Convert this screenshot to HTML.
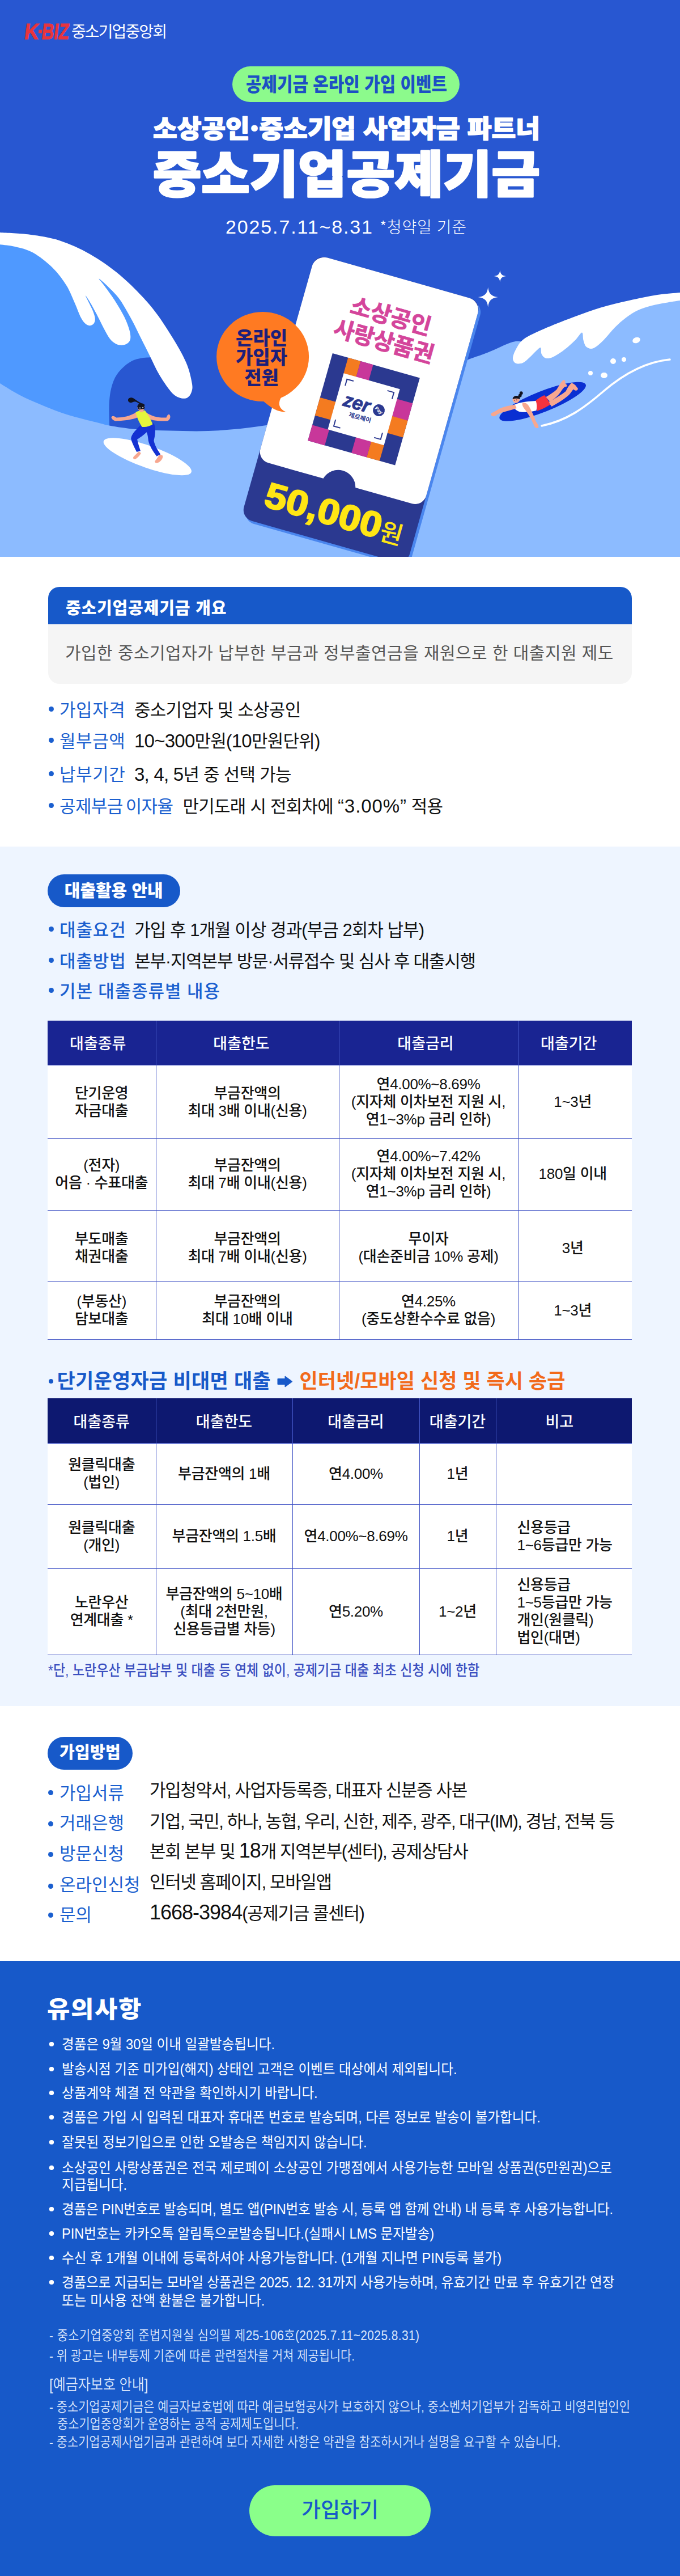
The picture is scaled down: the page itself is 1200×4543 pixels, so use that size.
<!DOCTYPE html>
<html lang="ko">
<head>
<meta charset="utf-8">
<title>중소기업공제기금 온라인 가입 이벤트</title>
<style>
*{box-sizing:border-box;margin:0;padding:0}
html,body{width:1200px;height:4543px;overflow-x:hidden;background:#fff}
body{font-family:"Liberation Sans","Noto Sans CJK KR",sans-serif;color:#111;position:relative;letter-spacing:0}
.abs{position:absolute}
.sec{position:absolute;left:0;width:1200px}
#hero{top:0;height:982px;background:#2857d1;overflow:hidden}
#s1{top:982px;height:511px;background:#fff}
#s2{top:1493px;height:1516px;background:#eef5ff}
#s2>*{margin-top:2px}
#s3{top:3009px;height:449px;background:#fff}
#s3>*{margin-top:-1px}
#s4{top:3458px;height:1085px;background:#1759c9;color:#fff}
#s4>*{margin-top:-1px}
.ln{position:absolute;white-space:nowrap;line-height:1}
.k{font-family:"Noto Sans CJK KR","Liberation Sans",sans-serif}
/* section 1 */
.ovh{position:absolute;left:85px;top:53px;width:1030px;height:66px;background:#1759c9;border-radius:20px 20px 0 0}
.ovb{position:absolute;left:85px;top:119px;width:1030px;height:105px;background:#f5f5f5;border-radius:0 0 20px 20px}
.bl{color:#1b5fcf}
.bul{position:absolute;left:83.5px;white-space:nowrap;line-height:40px;height:40px;font-size:31px;letter-spacing:-0.75px}
.bul .d{display:inline-block;width:21.5px;height:40px;vertical-align:top;font-size:0;position:relative}
.bul .d::before{content:"";position:absolute;left:2px;top:13px;width:9px;height:9px;border-radius:50%;background:#1b5fcf}
.bul .lb{color:#1b5fcf;margin-right:15.5px;letter-spacing:0.6px}
.n{font-size:33px;line-height:0}
.pill{position:absolute;left:85px;height:56px;border-radius:28px;background:#1759c9;color:#fff;font-weight:900;font-size:26px;line-height:56px;text-align:center;white-space:nowrap}
/* tables */
table{position:absolute;left:84px;width:1031px;border-collapse:collapse;table-layout:fixed;background:#fff}
th{background:#192492;color:#fff;font-weight:500;font-size:27px;border-left:1px solid #4558c8;border-right:1px solid #4558c8;vertical-align:middle;text-align:center}
th:first-child{border-left:none} th:last-child{border-right:none}
td{border:1px solid #3d50c4;text-align:center;vertical-align:middle;font-size:26px;line-height:31px;font-weight:500;color:#111;letter-spacing:-0.3px}
td:first-child{border-left:none} td:last-child{border-right:none}

td.l{text-align:left;padding-left:37px}
.h2 .arr{font-size:26px;position:relative;top:-3px}
.b3 .lb{display:inline-block;width:158px;margin-right:0}
.b3 .v{font-size:31px;color:#111}
.nb{position:absolute;left:109px;white-space:nowrap;font-size:25.5px;line-height:36px;height:36px;color:#fff;transform:scaleX(0.925);transform-origin:0 0}
.nb .d{position:absolute;left:-24.5px;top:14px;width:9px;height:8px;border-radius:50%;background:#fff;font-size:0}
.nb .d:empty{display:none}
.sm{position:absolute;left:87px;white-space:nowrap;font-size:23.5px;line-height:32px;height:32px;color:#dce7fb;font-weight:350;transform:scaleX(0.888);transform-origin:0 0}
.btn{position:absolute;left:440px;top:926px;width:320px;height:90px;border-radius:45px;background:#8aff8a;color:#1759c9;font-size:37px;font-weight:500;line-height:90px;text-align:center}
.b2{font-size:31px;letter-spacing:-0.95px}
.b2 .lb{font-weight:500;letter-spacing:0.9px;margin-right:14.5px}
td.c4{padding-right:8px}
.r3 td{padding-top:8px}
.r1 td{padding-top:2px}
.dot{left:85px;width:9px;height:9px;border-radius:50%;background:#1b5fcf}
.l3{left:105px;font-size:31px;color:#1b5fcf;letter-spacing:0px}
.v3{left:264px;font-size:31px;color:#111;letter-spacing:-1.35px}
.v3 .n{font-size:36px;letter-spacing:-1px;line-height:0}
.t2 th{background:#0d1870}
</style>
</head>
<body>

<!-- ================= HERO ================= -->
<div id="hero" class="sec">
<!--HS-->
<svg width="1200" height="982" viewBox="0 0 1200 982" style="position:absolute;left:0;top:0">
<rect width="1200" height="982" fill="#2857d1"/>
<path d="M-10.0,420.0 C8.3,421.7 65.0,416.7 100.0,430.0 C135.0,443.3 173.0,471.7 200.0,500.0 C227.0,528.3 250.0,578.3 262.0,600.0 C274.0,621.7 270.3,625.0 272.0,630.0 C268.3,630.2 256.7,630.3 250.0,631.5 C243.3,632.7 237.8,633.9 232.0,637.0 C226.2,640.1 219.8,645.2 215.0,650.0 C210.2,654.8 206.2,660.0 203.0,666.0 C199.8,672.0 197.7,679.2 196.0,686.0 C194.3,692.8 193.6,699.7 193.0,707.0 C192.4,714.3 192.5,721.2 192.6,730.0 C192.7,738.8 193.3,755.0 193.4,760.0 L-10,760 Z" fill="#4f99ff"/>
<path d="M-10.0,669.0 C-8.3,670.1 -7.5,671.2 0.0,675.9 C7.5,680.6 23.5,690.8 35.3,697.0 C47.1,703.2 58.8,708.0 70.6,713.0 C82.4,718.0 94.1,722.9 105.9,727.0 C117.7,731.1 129.4,734.4 141.2,737.6 C153.0,740.9 167.7,744.3 176.5,746.5 C185.3,748.7 183.4,749.0 194.0,750.7 C204.6,752.5 222.3,755.5 240.0,757.0 C257.7,758.5 278.7,759.0 300.0,759.5 C321.3,760.0 344.5,760.9 368.0,760.0 C391.5,759.1 415.7,757.2 441.0,754.0 C466.3,750.8 493.5,746.3 520.0,741.0 C546.5,735.7 570.0,730.5 600.0,722.0 C630.0,713.5 664.7,703.7 700.0,690.0 C735.3,676.3 785.3,651.3 812.0,640.0 C838.7,628.7 844.5,628.2 860.0,622.0 C875.5,615.8 893.3,606.3 905.0,603.0 C916.7,599.7 920.8,603.8 930.0,602.0 C939.2,600.2 946.7,596.7 960.0,592.0 C973.3,587.3 993.3,579.8 1010.0,574.0 C1026.7,568.2 1041.7,562.3 1060.0,557.0 C1078.3,551.7 1095.0,546.8 1120.0,542.0 C1145.0,537.2 1195.0,530.3 1210.0,528.0 L1210,990 L-10,990 Z" fill="#8cbbff"/>
<path d="M-10.6,409.6 C-8.8,409.7 -10.6,409.4 0.0,410.1 C10.6,410.8 35.3,411.4 52.9,413.8 C70.6,416.2 88.2,418.7 105.9,424.4 C123.5,430.1 141.2,438.1 158.8,448.2 C176.5,458.4 194.1,470.3 211.8,485.3 C229.4,500.3 249.7,520.6 264.7,538.2 C279.7,555.9 291.2,574.4 301.8,591.2 C312.4,607.9 322.1,624.7 328.2,638.8 C334.4,652.9 337.2,667.1 338.8,675.9 C340.4,684.7 339.1,687.5 337.8,691.8 C336.4,696.0 333.8,699.5 330.9,701.3 C328.0,703.1 323.8,702.9 320.3,702.4 C316.8,701.8 313.2,700.6 309.7,698.1 C306.2,695.6 304.0,693.9 299.1,687.5 C294.3,681.2 286.3,669.9 280.6,660.0 C274.9,650.1 270.0,638.8 264.7,628.2 C259.4,617.6 254.1,607.1 248.8,596.5 C243.5,585.9 239.1,576.0 232.9,564.7 C226.8,553.4 218.6,538.4 211.8,528.7 C204.9,519.0 197.8,512.6 191.6,506.5 C185.5,500.3 175.8,491.8 174.7,491.6 C173.6,491.5 180.4,498.7 185.3,505.4 C190.1,512.1 198.1,522.9 203.8,531.9 C209.6,540.9 215.6,550.9 219.7,559.4 C223.9,568.0 227.0,576.6 228.7,583.2 C230.4,589.9 230.8,595.1 229.8,599.1 C228.7,603.1 225.4,605.5 222.4,607.1 C219.4,608.6 215.1,609.0 211.8,608.6 C208.4,608.3 205.3,607.0 202.2,604.9 C199.1,602.9 196.5,601.0 193.2,596.5 C190.0,592.0 186.4,585.0 182.6,577.9 C178.9,570.9 174.4,561.6 170.5,554.1 C166.5,546.6 162.1,538.4 158.8,532.9 C155.6,527.5 151.1,520.9 150.9,521.3 C150.7,521.7 155.6,531.0 157.8,535.6 C160.0,540.2 162.4,544.4 164.1,548.8 C165.8,553.2 167.6,558.4 167.8,562.1 C168.0,565.8 166.9,569.0 165.2,571.1 C163.5,573.1 160.3,574.4 157.8,574.2 C155.2,574.1 152.5,572.6 149.8,570.0 C147.2,567.4 144.8,564.1 141.9,558.4 C139.0,552.6 136.4,544.7 132.4,535.6 C128.3,526.5 124.1,514.4 117.5,503.8 C110.9,493.2 102.5,481.8 92.6,472.1 C82.8,462.4 69.3,451.8 58.2,445.6 C47.2,439.4 36.2,437.4 26.5,435.0 C16.8,432.6 6.2,432.1 0.0,431.3 C-6.2,430.5 -8.8,430.4 -10.6,430.2 Z" fill="#fff"/>
<path d="M1210.0,515.0 C1208.3,515.2 1208.3,515.2 1200.0,516.0 C1191.7,516.8 1175.0,517.7 1160.0,520.0 C1145.0,522.3 1126.7,526.2 1110.0,530.0 C1093.3,533.8 1076.7,537.5 1060.0,542.5 C1043.3,547.5 1026.7,553.8 1010.0,560.0 C993.3,566.2 974.2,573.8 960.0,580.0 C945.8,586.2 933.2,591.7 925.0,597.5 C916.8,603.3 914.3,609.3 911.0,615.0 C907.7,620.7 905.2,627.2 905.0,631.5 C904.8,635.8 907.1,639.1 910.0,640.5 C912.9,641.9 918.3,641.8 922.5,640.0 C926.7,638.2 931.1,633.5 935.0,630.0 C938.9,626.5 942.8,621.8 946.0,619.0 C949.2,616.2 952.4,612.2 954.0,613.0 C955.6,613.8 954.1,620.9 955.5,624.0 C956.9,627.1 959.2,630.5 962.5,631.5 C965.8,632.5 969.6,632.3 975.0,630.0 C980.4,627.7 988.3,622.5 995.0,617.5 C1001.7,612.5 1009.7,605.2 1015.0,600.0 C1020.3,594.8 1024.6,586.5 1027.0,586.5 C1029.4,586.5 1028.2,595.8 1029.5,600.0 C1030.8,604.2 1032.0,609.7 1035.0,612.0 C1038.0,614.3 1042.5,616.0 1047.5,614.0 C1052.5,612.0 1058.8,606.1 1065.0,600.0 C1071.2,593.9 1078.3,584.2 1085.0,577.5 C1091.7,570.8 1098.3,565.0 1105.0,560.0 C1111.7,555.0 1117.5,551.0 1125.0,547.5 C1132.5,544.0 1141.7,541.2 1150.0,539.0 C1158.3,536.8 1166.7,535.5 1175.0,534.0 C1183.3,532.5 1194.2,530.8 1200.0,530.0 C1205.8,529.2 1208.3,529.2 1210.0,529.0 Z" fill="#fff"/>
  <!-- bubbles & line -->
  <g fill="#fff">
    <ellipse cx="1123" cy="600" rx="7" ry="5" transform="rotate(-20 1123 600)"/>
    <circle cx="1101" cy="634" r="4"/><circle cx="1082" cy="637" r="5"/>
    <ellipse cx="1066" cy="662" rx="6" ry="5"/><circle cx="1042" cy="658" r="4"/>
  </g>
  <path d="M956,751 C1000,742 1030,720 1065,690 C1100,660 1140,638 1182,634" fill="none" stroke="#fff" stroke-width="3.5" stroke-linecap="round"/>
  <!-- sparkles -->
  <path d="M861.2,506.5 C862.5,518 867,522.5 878.8,524.1 C867,525.7 862.5,530 861.2,541.7 C860,530 855.5,525.7 843.7,524.1 C855.5,522.5 860,518 861.2,506.5Z" fill="#fff"/>
  <path d="M882.4,476.5 C883.2,483.5 886,486.2 892.9,487 C886,487.8 883.2,490.5 882.4,497.5 C881.6,490.5 878.8,487.8 871.9,487 C878.8,486.2 881.6,483.5 882.4,476.5Z" fill="#fff"/>


  <!-- surfer (left) -->
  <g transform="translate(170,680) scale(0.294118)">
    <ellipse cx="307" cy="426" rx="279" ry="66" transform="rotate(19.5 307 426)" fill="#fff"/>
    <path d="M222,428 C232,418 245,405 255,395 L268,405 C262,418 250,432 236,440 C226,444 218,438 222,428Z" fill="#f7a78f"/>
    <path d="M352,452 C362,440 372,425 380,412 L398,420 C402,432 392,448 376,460 C362,468 348,462 352,452Z" fill="#f7a78f"/>
    <path d="M262,240 L345,225 C360,260 352,300 345,330 C350,360 370,390 385,412 L362,424 C340,395 318,360 312,330 C310,310 308,295 302,280 C285,295 260,315 245,322 C250,345 258,370 265,392 L242,398 C228,370 212,340 208,318 C210,290 240,265 262,240Z" fill="#1432d2"/>
    <path d="M240,160 C200,185 160,192 120,192 C105,180 92,180 90,192 C95,205 110,215 125,212 C165,210 215,205 250,190Z" fill="#f7a78f"/>
    <path d="M295,158 C330,185 375,195 420,192 C425,178 432,168 440,175 C448,188 442,205 428,212 C380,215 330,210 292,190Z" fill="#f7a78f"/>
    <path d="M236,160 C250,150 275,146 292,150 C310,175 328,205 338,232 C320,245 295,250 274,248 C258,222 242,190 236,160Z" fill="#e4f53c"/>
    <path d="M258,142 L280,140 L284,158 L262,160Z" fill="#f7a78f"/>
    <circle cx="268" cy="131" r="21" fill="#f7a78f"/>
    <path d="M246,128 C246,108 270,100 288,112 L290,122 L248,132Z" fill="#111320"/>
    <path d="M262,112 C245,100 235,92 222,98 C205,108 190,100 190,86 C192,72 212,68 226,78 C240,88 255,100 272,106Z" fill="#111320"/>
    <rect x="250" y="124" width="40" height="18" rx="7" fill="#111320" transform="rotate(-6 270 133)"/>
    <circle cx="262" cy="134" r="4" fill="#fff" opacity=".7"/><circle cx="279" cy="132" r="4" fill="#fff" opacity=".7"/>
  </g>

  <!-- swimmer (right) -->
  <g transform="translate(850,640) scale(0.294118)">
    <ellipse cx="366" cy="232" rx="278" ry="62" transform="rotate(-21.6 366 232)" fill="#0a2fd2"/>
    <path d="M385,205 C410,190 435,175 450,160 C462,140 475,118 488,104 C500,100 505,112 500,122 C510,128 515,136 510,142 C498,140 490,150 480,165 C465,190 440,215 410,232Z" fill="#f7a78f"/>
    <path d="M400,235 C440,215 480,190 505,170 C515,150 528,128 540,120 C555,125 570,140 578,155 C575,170 562,168 550,158 C540,170 528,190 515,200 C485,225 450,245 420,262Z" fill="#f7a78f"/>
    <path d="M322,228 C340,212 360,200 376,194 C392,210 405,232 410,250 C390,265 360,280 332,288Z" fill="#f5333f"/>
    <path d="M190,255 C210,240 260,232 325,228 C332,245 332,268 328,286 C300,294 260,298 225,292 C205,285 192,272 190,255Z" fill="#fff"/>
    <path d="M200,250 C170,255 135,262 105,275 C85,290 65,295 55,305 C55,318 68,325 82,318 C95,305 115,298 140,292 C165,285 190,280 210,272Z" fill="#f7a78f"/>
    <path d="M245,240 C262,236 275,245 285,262 C300,290 315,320 325,350 C335,365 345,378 340,390 C328,395 315,385 312,370 C300,340 280,305 262,282 C250,268 240,252 245,240Z" fill="#f7a78f"/>
    <circle cx="206" cy="220" r="21" fill="#f7a78f"/>
    <path d="M186,218 C186,200 205,192 222,200 C230,205 232,212 228,218 C215,212 200,212 186,218Z" fill="#111320"/>
    <circle cx="237" cy="181" r="10" fill="#111320"/><circle cx="230" cy="196" r="10" fill="#111320"/>
    <circle cx="196" cy="224" r="2.5" fill="#111320"/><circle cx="210" cy="222" r="2.5" fill="#111320"/>
  </g>

  <!-- card -->
  <g transform="translate(556.6,448.6) rotate(15.8)">
    <rect x="5" y="4" width="304" height="483" rx="20" fill="#4a86ee"/>
    <rect x="0" y="0" width="304" height="483" rx="20" fill="#2b3990"/>
    <path d="M22,0 H282 A22,22 0 0 1 304,22 V356.5 A20,20 0 0 1 284,376.5 H180 A30.5,30.5 0 0 0 121,376.5 H20 A20,20 0 0 1 0,356.5 V22 A22,22 0 0 1 22,0Z" fill="#fff"/>
    <g font-family="'Noto Sans CJK KR','Liberation Sans',sans-serif" font-weight="700" font-size="40" fill="#d4459b" stroke="#d4459b" stroke-width="0.8">
    <text x="85" y="83" textLength="146" lengthAdjust="spacing">소상공인</text>
    <text x="67" y="129" textLength="182" lengthAdjust="spacing">사랑상품권</text>
    </g>
    <!-- QR -->
    <g transform="translate(76.6,159.6)">
      <rect width="160" height="160" fill="#2b3990"/>
      <rect x="28.5" y="0" width="23" height="29" fill="#f47b20"/><rect x="51.5" y="0" width="23" height="29" fill="#c8379a"/>
      <rect x="131" y="46.5" width="29" height="32" fill="#c8379a"/><rect x="131" y="78" width="29" height="31" fill="#f47b20"/>
      <rect x="0" y="81" width="29" height="33" fill="#f47b20"/><rect x="0" y="131.5" width="31" height="28.5" fill="#c8379a"/>
      <rect x="80" y="131" width="28" height="29" fill="#c8379a"/><rect x="108" y="131" width="23.5" height="29" fill="#f47b20"/>
      <rect x="28.5" y="28.5" width="103" height="103" fill="#fff"/>
      <g fill="none" stroke="#2b3990" stroke-width="2">
        <path d="M37,49 V37 H49"/><path d="M111,37 H123 V49"/><path d="M37,111 V123 H49"/><path d="M111,123 H123 V111"/>
      </g>
      <text x="41" y="84" font-family="'Liberation Sans',sans-serif" font-weight="700" font-style="italic" font-size="34" letter-spacing="-0.5" fill="#2b3990" stroke="#2b3990" stroke-width="0.8">zer</text>
      <circle cx="106" cy="74.5" r="10.5" fill="#2b3990"/>
      <text x="106" y="77.5" text-anchor="middle" font-family="'Liberation Sans',sans-serif" font-weight="700" font-size="8.5" fill="#fff" transform="rotate(28 106 74.5)">Pay</text>
      <text x="77.5" y="100" text-anchor="middle" font-family="'Noto Sans CJK KR',sans-serif" font-weight="700" font-size="11" fill="#2b3990">제로페이</text>
    </g>
    <text x="31" y="452" font-family="'Liberation Sans',sans-serif" font-weight="700" font-size="63" textLength="212" lengthAdjust="spacingAndGlyphs" fill="#ffe614" stroke="#ffe614" stroke-width="2.2" stroke-linejoin="round">50,000</text>
    <text x="243" y="453" font-family="'Noto Sans CJK KR',sans-serif" font-weight="500" font-size="44" fill="#ffe614">원</text>
  </g>

  <!-- speech bubble -->
  <path d="M496.5,700.6 C494,704 492.5,709 492.9,713.5 C493.5,719 499,725 505.9,726.8 C497,727 487,723.5 481.2,720 C475,716 470,712 465.3,707.9 L470,690 Z" fill="#ff7a22"/>
  <ellipse cx="463.6" cy="629" rx="81.5" ry="79" fill="#ff7a22"/>
  <g font-family="'Noto Sans CJK KR','Liberation Sans',sans-serif" font-weight="900" font-size="33" fill="#1c1f7a" text-anchor="middle">
    <text x="461.5" y="607.5">온라인</text><text x="461.5" y="641.5">가입자</text><text x="461.5" y="678">전원</text>
  </g>

  <!-- logo -->
  <g transform="translate(42,69) skewX(-7)" font-family="'Liberation Sans',sans-serif" font-weight="700" font-size="39" fill="#e8343d" stroke="#e8343d" stroke-width="1.2"><text x="0" y="0" textLength="25" lengthAdjust="spacingAndGlyphs">K</text><rect x="24.5" y="-16.5" width="6" height="6" stroke="none"/><text x="30.5" y="0" textLength="48" lengthAdjust="spacingAndGlyphs">BIZ</text></g>
  <text x="126" y="66" font-family="'Noto Sans CJK KR','Liberation Sans',sans-serif" font-weight="400" font-size="28" textLength="169" lengthAdjust="spacing" fill="#fff">중소기업중앙회</text>
  <!-- pill -->
  <rect x="410" y="117" width="401" height="63" rx="31.5" fill="#8cfa8c"/>
  <text x="434" y="160.8" font-family="'Noto Sans CJK KR','Liberation Sans',sans-serif" font-weight="900" font-size="34.5" textLength="355" lengthAdjust="spacingAndGlyphs" fill="#1d4fc4">공제기금 온라인 가입 이벤트</text>
  <!-- titles -->
  <g fill="#fff" stroke="#fff" stroke-linejoin="round" font-family="'Noto Sans CJK KR','Liberation Sans',sans-serif" font-weight="900">
  <text x="270" y="242.6" font-size="44" textLength="683" lengthAdjust="spacingAndGlyphs" stroke-width="1.6">소상공인·중소기업 사업자금 파트너</text>
  <text x="270" y="338.5" font-size="88" textLength="683" lengthAdjust="spacingAndGlyphs" stroke-width="3">중소기업공제기금</text>
  </g>
  <text x="398" y="412" font-family="'Liberation Sans',sans-serif" font-size="34" textLength="259" lengthAdjust="spacing" fill="#fff">2025.7.11~8.31</text>
  <text x="670" y="411" font-family="'Noto Sans CJK KR',sans-serif" font-weight="300" font-size="28" textLength="153" lengthAdjust="spacing" fill="#fff">*청약일 기준</text>

</svg><!--HE-->
</div>

<!-- ================= SECTION 1 ================= -->
<div id="s1" class="sec">
  <div class="ovh"></div>
  <div class="ovb"></div>
  <div class="ln" style="left:116px;top:77px;font-size:29px;letter-spacing:0.85px;font-weight:900;color:#fff">중소기업공제기금 개요</div>
  <div class="ln" style="left:115px;top:155px;font-size:30px;letter-spacing:0.45px;color:#555">가입한 중소기업자가 납부한 부금과 정부출연금을 재원으로 한 대출지원 제도</div>
  <div class="bul" style="top:251px"><span class="d">•</span><span class="lb">가입자격</span>중소기업자 및 소상공인</div>
  <div class="bul" style="top:306px"><span class="d">•</span><span class="lb">월부금액</span><span class="n">10~300</span>만원(<span class="n">10</span>만원단위)</div>
  <div class="bul" style="top:365px"><span class="d">•</span><span class="lb">납부기간</span><span class="n">3, 4, 5</span>년 중 선택 가능</div>
  <div class="bul" style="top:421px"><span class="d">•</span><span class="lb" style="letter-spacing:-0.6px;word-spacing:-3px;margin-right:17px">공제부금 이자율</span>만기도래 시 전회차에 <span class="n" style="letter-spacing:0.9px">“3.00%”</span> 적용</div>
</div>

<!-- ================= SECTION 2 ================= -->
<div id="s2" class="sec">

  <div class="pill" style="left:84px;top:47px;width:233.5px;height:58px;line-height:57px;border-radius:29px;font-size:30px">대출활용 안내</div>
  <div class="bul b2" style="top:126px"><span class="d">•</span><span class="lb">대출요건</span>가입 후 1개월 이상 경과(부금 2회차 납부)</div>
  <div class="bul b2" style="top:181px;letter-spacing:-1.2px"><span class="d">•</span><span class="lb">대출방법</span>본부·지역본부 방문·서류접수 및 심사 후 대출시행</div>
  <div class="bul b2" style="top:234px"><span class="d">•</span><span class="lb">기본 대출종류별 내용</span></div>

  <table style="top:305px">
    <colgroup><col style="width:191px"><col style="width:323px"><col style="width:316px"><col style="width:201px"></colgroup>
    <tr style="height:78px"><th style="padding-right:13px">대출종류</th><th style="padding-right:21px">대출한도</th><th style="padding-right:10px">대출금리</th><th style="padding-right:22px">대출기간</th></tr>
    <tr class="r1" style="height:129px"><td>단기운영<br>자금대출</td><td>부금잔액의<br>최대 3배 이내(신용)</td><td>연4.00%~8.69%<br>(지자체 이차보전 지원 시,<br>연1~3%p 금리 인하)</td><td class="c4">1~3년</td></tr>
    <tr style="height:127px"><td>(전자)<br>어음 · 수표대출</td><td>부금잔액의<br>최대 7배 이내(신용)</td><td>연4.00%~7.42%<br>(지자체 이차보전 지원 시,<br>연1~3%p 금리 인하)</td><td class="c4">180일 이내</td></tr>
    <tr class="r3" style="height:126px"><td>부도매출<br>채권대출</td><td>부금잔액의<br>최대 7배 이내(신용)</td><td>무이자<br>(대손준비금 10% 공제)</td><td class="c4">3년</td></tr>
    <tr style="height:102px"><td>(부동산)<br>담보대출</td><td>부금잔액의<br>최대 10배 이내</td><td>연4.25%<br>(중도상환수수료 없음)</td><td class="c4">1~3년</td></tr>
  </table>

  <div class="abs" style="left:86px;top:937px;width:8px;height:8px;border-radius:50%;background:#1759c9"></div>
  <div class="ln" style="left:100.5px;top:922.5px;font-size:35px;font-weight:700;color:#1759c9;letter-spacing:0.3px">단기운영자금 비대면 대출</div>
  <svg class="abs" style="left:488.5px;top:930.5px" width="28" height="21" viewBox="0 0 28 21"><path d="M1,5.5 H14 V1 L27,10.5 L14,20 V15.5 H1Z" fill="#1759c9" stroke="#1759c9" stroke-width="1" stroke-linejoin="round"/></svg>
  <div class="ln" style="left:528.5px;top:922.5px;font-size:35px;font-weight:700;color:#f26a1b;letter-spacing:0.1px">인터넷/모바일 신청 및 즉시 송금</div>

  <table class="t2" style="top:971px">
    <colgroup><col style="width:191px"><col style="width:241px"><col style="width:224px"><col style="width:135px"><col style="width:240px"></colgroup>
    <tr style="height:79px"><th>대출종류</th><th>대출한도</th><th>대출금리</th><th>대출기간</th><th style="padding-right:16px">비고</th></tr>
    <tr style="height:108px"><td>원클릭대출<br>(법인)</td><td>부금잔액의 1배</td><td>연4.00%</td><td>1년</td><td></td></tr>
    <tr style="height:113px"><td>원클릭대출<br>(개인)</td><td>부금잔액의 1.5배</td><td>연4.00%~8.69%</td><td>1년</td><td class="l">신용등급<br>1~6등급만 가능</td></tr>
    <tr style="height:152px"><td>노란우산<br>연계대출 *</td><td>부금잔액의 5~10배<br>(최대 2천만원,<br>신용등급별 차등)</td><td>연5.20%</td><td>1~2년</td><td class="l">신용등급<br>1~5등급만 가능<br>개인(원클릭)<br>법인(대면)</td></tr>
  </table>
  <div class="ln" style="left:85px;top:1438px;font-size:26px;font-weight:500;color:#3b4fc0;transform:scaleX(0.885);transform-origin:0 0">*단, 노란우산 부금납부 및 대출 등 연체 없이, 공제기금 대출 최초 신청 시에 한함</div>

</div>

<!-- ================= SECTION 3 ================= -->
<div id="s3" class="sec">
  <div class="pill" style="left:84px;top:54.5px;width:150px;height:58px;line-height:57px;border-radius:29px;font-size:29px;letter-spacing:0.3px">가입방법</div>
  <div class="abs dot" style="top:148.5px"></div><div class="ln l3" style="top:138.5px">가입서류</div><div class="ln v3" style="top:133.5px">가입청약서, 사업자등록증, 대표자 신분증 사본</div>
  <div class="abs dot" style="top:203.5px"></div><div class="ln l3" style="top:192.0px">거래은행</div><div class="ln v3" style="top:188.5px;letter-spacing:-1.5px">기업, 국민, 하나, 농협, 우리, 신한, 제주, 광주, 대구(IM), 경남, 전북 등</div>
  <div class="abs dot" style="top:257.5px"></div><div class="ln l3" style="top:246.0px">방문신청</div><div class="ln v3" style="top:242.0px">본회 본부 및 <span class="n">18</span>개 지역본부(센터), 공제상담사</div>
  <div class="abs dot" style="top:314.0px"></div><div class="ln l3" style="top:301.0px">온라인신청</div><div class="ln v3" style="top:296.0px">인터넷 홈페이지, 모바일앱</div>
  <div class="abs dot" style="top:365.0px"></div><div class="ln l3" style="top:353.5px">문의</div><div class="ln v3" style="top:351.0px"><span class="n">1668-3984</span>(공제기금 콜센터)</div>
</div>

<!-- ================= SECTION 4 ================= -->
<div id="s4" class="sec">

  <div class="ln" style="left:82.5px;top:66.5px;font-size:41px;letter-spacing:1.5px;font-weight:900;color:#fff;transform:scaleX(1.07);transform-origin:0 0">유의사항</div>
  <div class="nb" style="top:130px"><span class="d">•</span>경품은 9월 30일 이내 일괄발송됩니다.</div>
  <div class="nb" style="top:174px"><span class="d">•</span>발송시점 기준 미가입(해지) 상태인 고객은 이벤트 대상에서 제외됩니다.</div>
  <div class="nb" style="top:216px"><span class="d">•</span>상품계약 체결 전 약관을 확인하시기 바랍니다.</div>
  <div class="nb" style="top:259px"><span class="d">•</span>경품은 가입 시 입력된 대표자 휴대폰 번호로 발송되며, 다른 정보로 발송이 불가합니다.</div>
  <div class="nb" style="top:303px"><span class="d">•</span>잘못된 정보기입으로 인한 오발송은 책임지지 않습니다.</div>
  <div class="nb" style="top:348px"><span class="d">•</span>소상공인 사랑상품권은 전국 제로페이 소상공인 가맹점에서 사용가능한 모바일 상품권(5만원권)으로</div>
  <div class="nb" style="top:378px"><span class="d"></span>지급됩니다.</div>
  <div class="nb" style="top:421px;letter-spacing:-0.25px"><span class="d">•</span>경품은 PIN번호로 발송되며, 별도 앱(PIN번호 발송 시, 등록 앱 함께 안내) 내 등록 후 사용가능합니다.</div>
  <div class="nb" style="top:464px"><span class="d">•</span>PIN번호는 카카오톡 알림톡으로발송됩니다.(실패시 LMS 문자발송)</div>
  <div class="nb" style="top:507px"><span class="d">•</span>수신 후 1개월 이내에 등록하셔야 사용가능합니다. (1개월 지나면 PIN등록 불가)</div>
  <div class="nb" style="top:550px;letter-spacing:-0.17px"><span class="d">•</span>경품으로 지급되는 모바일 상품권은 2025. 12. 31까지 사용가능하며, 유효기간 만료 후 유효기간 연장</div>
  <div class="nb" style="top:582px"><span class="d"></span>또는 미사용 잔액 환불은 불가합니다.</div>
  <div class="sm" style="top:646px;letter-spacing:0.5px">- 중소기업중앙회 준법지원실 심의필 제25-106호(2025.7.11~2025.8.31)</div>
  <div class="sm" style="top:682px">- 위 광고는 내부통제 기준에 따른 관련절차를 거쳐 제공됩니다.</div>
  <div class="sm" style="top:733px;font-size:27px">[예금자보호 안내]</div>
  <div class="sm" style="top:772px">- 중소기업공제기금은 예금자보호법에 따라 예금보험공사가 보호하지 않으나, 중소벤처기업부가 감독하고 비영리법인인</div>
  <div class="sm" style="top:802px;left:101px">중소기업중앙회가 운영하는 공적 공제제도입니다.</div>
  <div class="sm" style="top:834px">- 중소기업공제사업기금과 관련하여 보다 자세한 사항은 약관을 참조하시거나 설명을 요구할 수 있습니다.</div>
  <div class="btn">가입하기</div>

</div>

</body>
</html>
